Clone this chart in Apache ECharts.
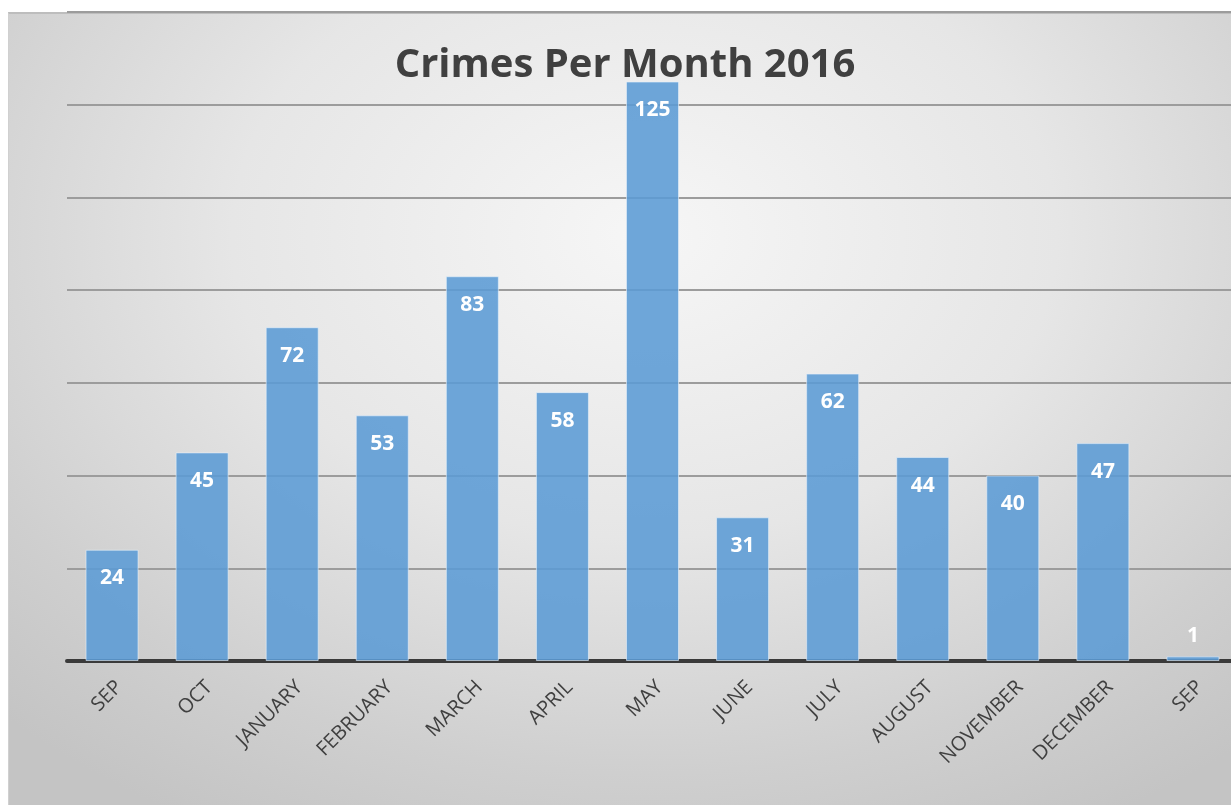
<!DOCTYPE html>
<html>
<head>
<meta charset="utf-8">
<script src="https://cdn.jsdelivr.net/npm/echarts@6/dist/echarts.min.js"></script>
<style>
  html, body { margin: 0; padding: 0; width: 1231px; height: 805px; background: #ffffff; overflow: hidden; }
  #frame { position: absolute; left: 8px; top: 12px; width: 1223px; height: 793px;
    background: radial-gradient(ellipse 75% 85% at 52% 28%, #f6f6f6 0%, #e6e6e6 45%, #cfcfcf 80%, #c4c4c4 100%);
    border-top: 2px solid #bdbdbd; border-left: 1px solid #d0d0d0; box-sizing: border-box; }
  #chart { position: absolute; left: 0; top: 0; width: 1250px; height: 805px; }
</style>
</head>
<body>
<div id="frame"></div>
<div id="chart"></div>
<script>
const titleText = 'Crimes Per Month 2016';
const categories = ['SEP', 'OCT', 'JANUARY', 'FEBRUARY', 'MARCH', 'APRIL', 'MAY', 'JUNE', 'JULY', 'AUGUST', 'NOVEMBER', 'DECEMBER', 'SEP'];
const crimes = [24, 45, 72, 53, 83, 58, 125, 31, 62, 44, 40, 47, 1];
const yTicks = { min: 0, max: 140, interval: 20 };

const chart = echarts.init(document.getElementById('chart'), null, { renderer: 'canvas' });
const seriesData = crimes.map(v => {
  if (v < 8) {
    return { value: v, label: { position: 'top', distance: 10 } };
  }
  return v;
});

chart.setOption({
  backgroundColor: 'transparent',
  animation: false,
  title: {
    text: titleText,
    left: 'center',
    top: 41,
    textStyle: { fontFamily: 'Open Sans', fontWeight: 'bold', fontSize: 40, color: '#404040' }
  },
  grid: { left: 67, top: 12, width: 1171, bottom: 144, containLabel: false },
  xAxis: {
    type: 'category',
    data: categories,
    axisLine: { show: true, lineStyle: { color: '#3a3a3a', width: 4 } },
    axisTick: { show: false },
    axisLabel: { rotate: 45, margin: 16, verticalAlign: 'top', fontFamily: 'Open Sans', fontSize: 20, color: '#404040', interval: 0 }
  },
  yAxis: {
    type: 'value',
    min: yTicks.min,
    max: yTicks.max,
    interval: yTicks.interval,
    axisLine: { show: false },
    axisTick: { show: false },
    axisLabel: { show: false },
    splitLine: { show: true, lineStyle: { color: '#9c9c9c', width: 2 } }
  },
  series: [{
    type: 'bar',
    data: seriesData,
    barWidth: 53,
    itemStyle: { color: 'rgba(91,155,213,0.88)', borderColor: 'rgba(230,240,250,0.6)', borderWidth: 1 },
    label: {
      show: true,
      position: 'insideTop',
      distance: 18,
      color: '#ffffff',
      fontFamily: 'Open Sans',
      fontWeight: 'bold',
      fontSize: 21
    },
    z: 2
  }]
});
</script>
</body>
</html>
